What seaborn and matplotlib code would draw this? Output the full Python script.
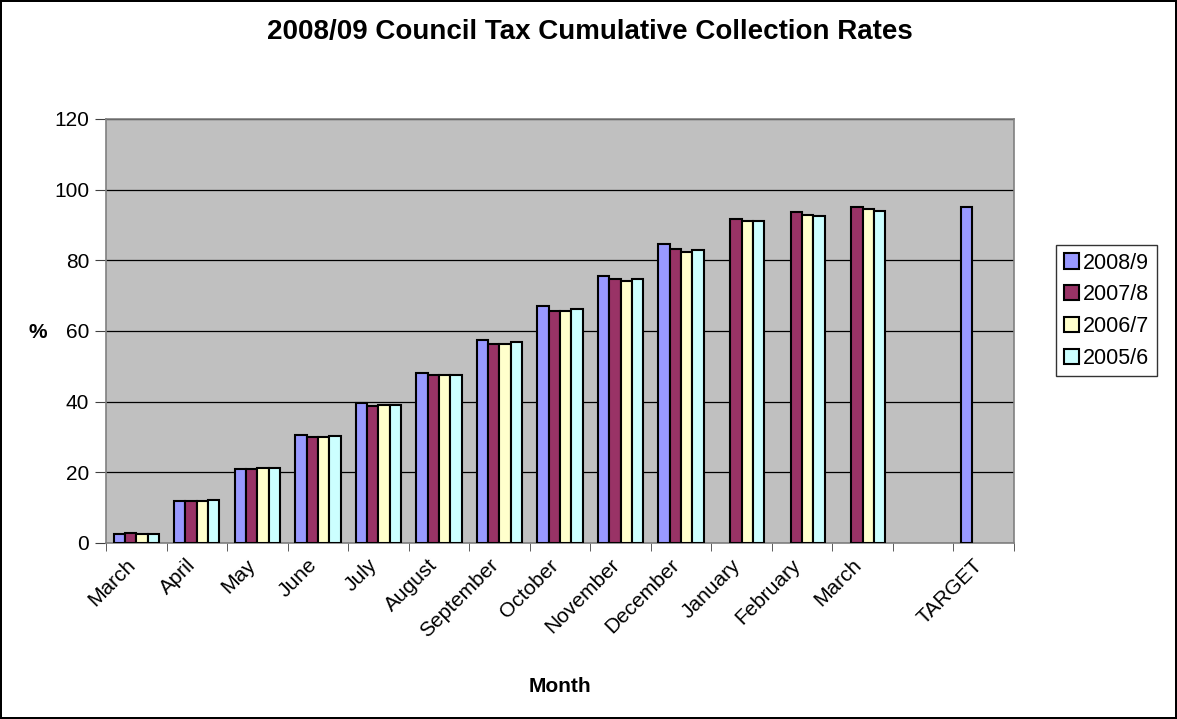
import numpy as np
import pandas as pd
import matplotlib
matplotlib.use("Agg")
import matplotlib.pyplot as plt
import matplotlib.transforms as mtrans
import seaborn as sns

# --- Data ---
cat_keys = ["March 08", "April", "May", "June", "July", "August", "September",
            "October", "November", "December", "January", "February", "March 09",
            "blank", "TARGET"]
tick_labels = ["March", "April", "May", "June", "July", "August", "September",
               "October", "November", "December", "January", "February", "March",
               "", "TARGET"]
seasons = ["2008/9", "2007/8", "2006/7", "2005/6"]

rate_2008_9 = [2.5, 11.8, 21.0, 30.5, 39.5, 48.0, 57.5, 67.0, 75.7, 84.7, None, None, None, None, 95.2]
rate_2007_8 = [2.9, 11.8, 21.0, 30.0, 38.7, 47.5, 56.3, 65.8, 74.8, 83.2, 91.6, 93.6, 95.0, None, None]
rate_2006_7 = [2.6, 12.0, 21.3, 30.0, 39.0, 47.5, 56.2, 65.6, 74.2, 82.5, 91.0, 92.8, 94.5, None, None]
rate_2005_6 = [2.5, 12.3, 21.2, 30.2, 39.0, 47.6, 56.8, 66.2, 74.7, 83.0, 91.0, 92.6, 94.0, None, None]

colors = ["#9999FF", "#993366", "#FFFFCC", "#CCFFFF"]

# --- Long form table ---
rows = []
for season, vals in zip(seasons, [rate_2008_9, rate_2007_8, rate_2006_7, rate_2005_6]):
    for cat, v in zip(cat_keys, vals):
        if v is not None:
            rows.append({"Month": cat, "Season": season, "Rate": v})
df = pd.DataFrame(rows)

# --- Plot ---
plt.rcParams["font.family"] = ["Liberation Sans", "DejaVu Sans"]
fig = plt.figure(figsize=(11.77, 7.19), dpi=100)
fig.patch.set_edgecolor("black")
fig.patch.set_linewidth(1.5)
ax = fig.add_axes([106 / 1177, 1 - 543 / 719, (1014 - 106) / 1177, (543 - 119) / 719])
ax.set_facecolor("#C0C0C0")

sns.barplot(data=df, x="Month", y="Rate", hue="Season", order=cat_keys,
            hue_order=seasons, palette=colors, width=0.75, saturation=1,
            edgecolor="black", linewidth=1.5, errorbar=None, ax=ax, zorder=3)

ax.set_ylim(0, 120)
ax.set_yticks(np.arange(0, 121, 20))
ax.set_xlim(-0.5, len(cat_keys) - 0.5)
ax.grid(axis="y", color="black", linewidth=0.9, zorder=0)
ax.set_axisbelow(True)

ax.set_xticks(range(len(cat_keys)))
ax.set_xticklabels(tick_labels, rotation=45, ha="right", rotation_mode="anchor", fontsize=15)
ax.set_xticks(np.arange(-0.5, len(cat_keys), 1), minor=True)
ax.tick_params(axis="x", which="major", length=0, pad=9)
ax.tick_params(axis="x", which="minor", length=6, direction="out", color="#404040")
ax.tick_params(axis="y", length=8, direction="out", labelsize=15, color="#404040", pad=4)

# nudge the rotated month labels left like the original
shift = mtrans.ScaledTranslation(-11 / 100, 0, fig.dpi_scale_trans)
for lbl in ax.get_xticklabels():
    lbl.set_transform(lbl.get_transform() + shift)

for s in ax.spines.values():
    s.set_color("#808080")
    s.set_linewidth(1.2)

ax.set_xlabel("")
ax.set_ylabel("")
fig.text(560 / 1177, 1 - 686 / 719, "Month", ha="center", va="center", fontsize=15, fontweight="bold")
fig.text(38 / 1177, 1 - 333 / 719, "%", ha="center", va="center", fontsize=15, fontweight="bold")
fig.text(590 / 1177, 1 - 32 / 719, "2008/09 Council Tax Cumulative Collection Rates",
         ha="center", va="center", fontsize=20, fontweight="bold")

ax.legend_.remove()
handles = [plt.Rectangle((0, 0), 1, 1, facecolor=c, edgecolor="black", linewidth=1.5) for c in colors]
leg = fig.legend(handles, seasons, loc="upper left", bbox_to_anchor=(1056 / 1177, 1 - 245 / 719),
                 fontsize=15.5, frameon=True, fancybox=False, handlelength=0.7, handleheight=0.7,
                 handletextpad=0.2, borderpad=0.35, labelspacing=0.5, borderaxespad=0)
leg.get_frame().set_edgecolor("black")
leg.get_frame().set_linewidth(1)

fig.savefig("out.png", dpi=100)
